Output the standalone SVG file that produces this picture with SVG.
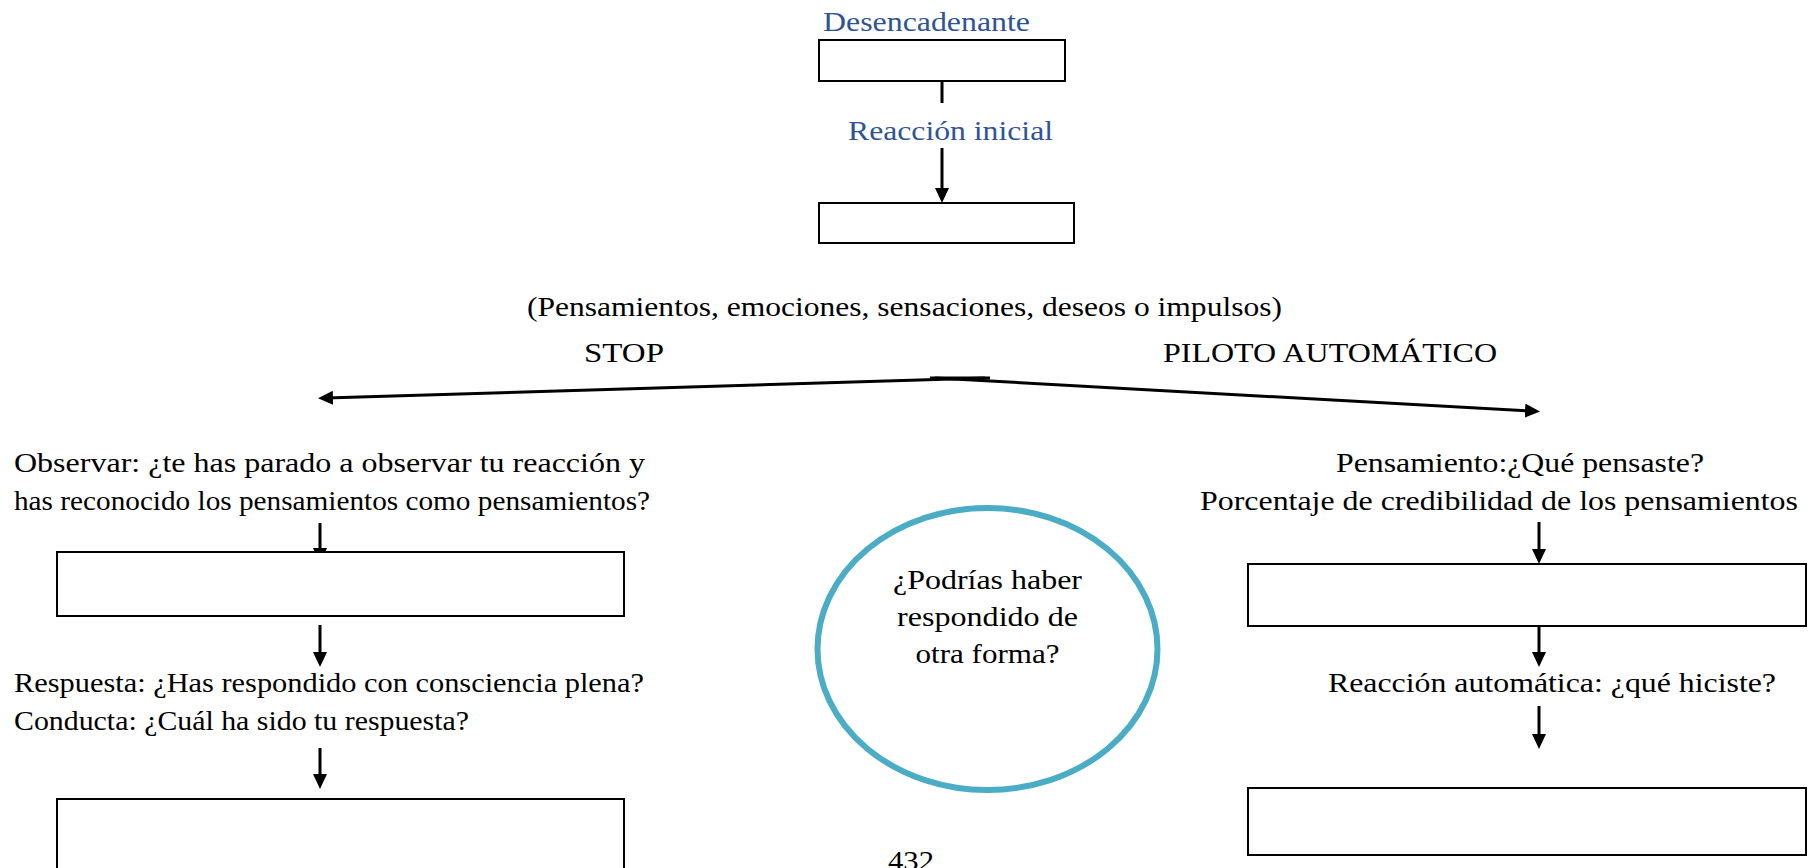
<svg xmlns="http://www.w3.org/2000/svg" width="1810" height="868" viewBox="0 0 1810 868">
  <style>
    .t { font-family: "Liberation Serif", "Times New Roman", serif; font-size: 28px; fill: #000; }
    .blue { fill: #2F5496; }
    .box { fill: #fff; stroke: #000; stroke-width: 2; }
    .conn { stroke: #000; stroke-width: 3; fill: none; }
    .oval { fill: #fff; stroke: #4BACC6; stroke-width: 6; }
  </style>
  <defs>
    <marker id="arrow" viewBox="0 0 15 14" refX="7" refY="7" markerWidth="15" markerHeight="14" markerUnits="userSpaceOnUse" orient="auto">
      <path d="M0,0 L15,7 L0,14 z" fill="#000"/>
    </marker>
  </defs>
  <rect width="1810" height="868" fill="#fff"/>

  <g id="connectors">
    <line class="conn" x1="942" y1="81" x2="942" y2="103" stroke-width="2"/>
    <line class="conn" x1="942" y1="148" x2="942" y2="195" marker-end="url(#arrow)"/>
    <line class="conn" x1="930" y1="378" x2="990" y2="378"/>
    <line class="conn" x1="985" y1="378" x2="326" y2="398" marker-end="url(#arrow)"/>
    <line class="conn" x1="935" y1="378" x2="1532" y2="411" marker-end="url(#arrow)"/>
    <line class="conn" x1="320" y1="523" x2="320" y2="555" marker-end="url(#arrow)"/>
    <line class="conn" x1="320" y1="625" x2="320" y2="659" marker-end="url(#arrow)"/>
    <line class="conn" x1="320" y1="748" x2="320" y2="781" marker-end="url(#arrow)"/>
    <line class="conn" x1="1539" y1="522" x2="1539" y2="556" marker-end="url(#arrow)"/>
    <line class="conn" x1="1539" y1="626" x2="1539" y2="659" marker-end="url(#arrow)"/>
    <line class="conn" x1="1539" y1="706" x2="1539" y2="741" marker-end="url(#arrow)"/>
  </g>

  <g id="desencadenante">
    <text class="t blue" x="823" y="31" textLength="207" lengthAdjust="spacingAndGlyphs">Desencadenante</text>
    <rect class="box" x="819" y="40" width="246" height="41"/>
  </g>

  <g id="reaccion-inicial">
    <text class="t blue" x="848" y="140" textLength="205" lengthAdjust="spacingAndGlyphs">Reacción inicial</text>
    <rect class="box" x="819" y="203" width="255" height="40"/>
    <text class="t" x="527" y="316" textLength="755" lengthAdjust="spacingAndGlyphs">(Pensamientos, emociones, sensaciones, deseos o impulsos)</text>
  </g>

  <g id="stop-label">
    <text class="t" x="584" y="362" textLength="80" lengthAdjust="spacingAndGlyphs">STOP</text>
  </g>
  <g id="piloto-label">
    <text class="t" x="1163" y="362" textLength="334" lengthAdjust="spacingAndGlyphs">PILOTO AUTOMÁTICO</text>
  </g>

  <g id="observar">
    <text class="t" x="14" y="472" textLength="631" lengthAdjust="spacingAndGlyphs">Observar: ¿te has parado a observar tu reacción y</text>
    <text class="t" x="14" y="510" textLength="636" lengthAdjust="spacingAndGlyphs">has reconocido los pensamientos como pensamientos?</text>
    <rect class="box" x="57" y="552" width="567" height="64"/>
  </g>

  <g id="respuesta">
    <text class="t" x="14" y="692" textLength="630" lengthAdjust="spacingAndGlyphs">Respuesta: ¿Has respondido con consciencia plena?</text>
    <text class="t" x="14" y="730" textLength="455" lengthAdjust="spacingAndGlyphs">Conducta: ¿Cuál ha sido tu respuesta?</text>
    <rect class="box" x="57" y="799" width="567" height="80"/>
  </g>

  <g id="podrias">
    <ellipse class="oval" cx="987.5" cy="649" rx="170" ry="141"/>
    <text class="t" x="987.5" y="589" text-anchor="middle" textLength="189" lengthAdjust="spacingAndGlyphs">¿Podrías haber</text>
    <text class="t" x="987.5" y="626" text-anchor="middle" textLength="181" lengthAdjust="spacingAndGlyphs">respondido de</text>
    <text class="t" x="987.5" y="663" text-anchor="middle" textLength="144" lengthAdjust="spacingAndGlyphs">otra forma?</text>
  </g>

  <g id="pensamiento">
    <text class="t" x="1336" y="472" textLength="368" lengthAdjust="spacingAndGlyphs">Pensamiento:¿Qué pensaste?</text>
    <text class="t" x="1200" y="510" textLength="598" lengthAdjust="spacingAndGlyphs">Porcentaje de credibilidad de los pensamientos</text>
    <rect class="box" x="1248" y="564" width="558" height="62"/>
  </g>

  <g id="reaccion-automatica">
    <text class="t" x="1328" y="692" textLength="448" lengthAdjust="spacingAndGlyphs">Reacción automática: ¿qué hiciste?</text>
    <rect class="box" x="1248" y="788" width="558" height="67"/>
  </g>

  <g id="page-number">
    <text class="t" x="888" y="870" textLength="46" lengthAdjust="spacingAndGlyphs">432</text>
  </g>
</svg>
